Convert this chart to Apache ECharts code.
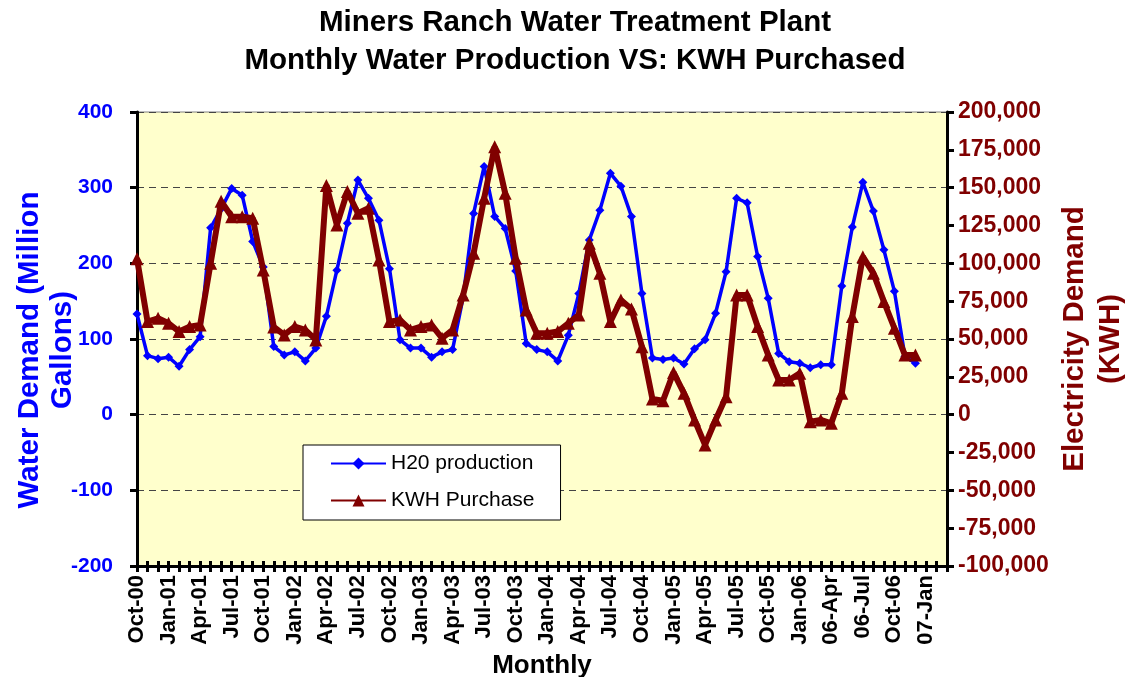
<!DOCTYPE html>
<html>
<head>
<meta charset="utf-8">
<script src="https://cdn.jsdelivr.net/npm/echarts@6/dist/echarts.min.js"></script>
<style>
html,body{margin:0;padding:0;background:#fff;}
#chart{width:1136px;height:677px;}
</style>
</head>
<body>
<div id="chart"></div>
<script>
// Category axis: one slot per month (Oct-00 .. Mar-07)
const months = [
 'Oct-00','Nov-00','Dec-00','Jan-01','Feb-01','Mar-01','Apr-01','May-01','Jun-01','Jul-01','Aug-01','Sep-01',
 'Oct-01','Nov-01','Dec-01','Jan-02','Feb-02','Mar-02','Apr-02','May-02','Jun-02','Jul-02','Aug-02','Sep-02',
 'Oct-02','Nov-02','Dec-02','Jan-03','Feb-03','Mar-03','Apr-03','May-03','Jun-03','Jul-03','Aug-03','Sep-03',
 'Oct-03','Nov-03','Dec-03','Jan-04','Feb-04','Mar-04','Apr-04','May-04','Jun-04','Jul-04','Aug-04','Sep-04',
 'Oct-04','Nov-04','Dec-04','Jan-05','Feb-05','Mar-05','Apr-05','May-05','Jun-05','Jul-05','Aug-05','Sep-05',
 'Oct-05','Nov-05','Dec-05','Jan-06','Feb-06','Mar-06','Apr-06','May-06','Jun-06','Jul-06','Aug-06','Sep-06',
 'Oct-06','Nov-06','Dec-06','Jan-07','Feb-07','Mar-07'
];
// Tick labels shown every third month
const tickLabels = [
 'Oct-00','Jan-01','Apr-01','Jul-01','Oct-01','Jan-02','Apr-02','Jul-02','Oct-02','Jan-03','Apr-03','Jul-03',
 'Oct-03','Jan-04','Apr-04','Jul-04','Oct-04','Jan-05','Apr-05','Jul-05','Oct-05','Jan-06','06-Apr','06-Jul',
 'Oct-06','07-Jan'
];
// H20 production (million gallons), Oct-00 .. Dec-06
const h2oProduction = [
 133,78,74,76,64,86,103,247,272,299,
 290,229,195,90,79,83,71,88,130,191,
 253,310,286,257,193,99,88,88,76,83,
 86,155,266,328,262,246,190,94,86,83,
 71,105,160,231,270,319,302,262,160,75,
 73,75,67,87,99,134,189,286,280,209,
 154,81,70,68,62,66,66,170,248,307,
 269,218,163,77,68
];
// KWH purchased, Oct-00 .. Dec-06
const kwhPurchase = [
 103000,61500,63700,60400,54900,58200,59300,100000,141000,130800,
 130800,129800,95600,58000,52700,58200,56000,49400,151500,125400,
 147400,133100,136400,102200,61500,62600,56000,58200,59300,50500,
 56000,79100,106700,143000,177000,146300,103300,69200,53800,53800,
 54900,60400,65900,113300,93400,61500,75800,69800,44900,10300,
 9200,27900,14100,-3500,-20000,-3500,11900,79100,79100,58200,
 39400,22900,22900,27400,-4600,-3500,-5700,14100,64800,104400,
 93400,74700,57100,39400,39400
];

const FONT = 'Liberation Sans, Arial, sans-serif';
const chart = echarts.init(document.getElementById('chart'), null, {renderer:'canvas'});
const option = {
  animation: false,
  backgroundColor: '#ffffff',
  textStyle: {fontFamily: FONT},
  title: {
    text: 'Miners Ranch Water Treatment Plant\nMonthly Water Production VS: KWH Purchased',
    left: 575, top: 4, textAlign: 'center', padding: 0,
    textStyle: {fontFamily: FONT, fontWeight: 'bold', fontSize: 29.5, lineHeight: 38, color: '#000'}
  },
  legend: {
    orient: 'vertical', left: 303, top: 445,
    itemWidth: 55, itemHeight: 15, itemGap: 16,
    padding: [8, 26, 9, 27],
    backgroundColor: '#ffffff', borderColor: '#000', borderWidth: 1,
    textStyle: {fontFamily: FONT, fontSize: 21, color: '#000'},
    data: ['H20 production', 'KWH Purchase']
  },
  grid: {
    left: 137, right: 189, top: 112, bottom: 111,
    outerBoundsMode: 'none', containLabel: false,
    show: true, backgroundColor: '#FFFFCC', borderColor: '#808080', borderWidth: 1
  },
  xAxis: [
    {
      type: 'category', data: months, boundaryGap: false,
      axisLine: {onZero: false, lineStyle: {color: '#000', width: 3}},
      axisTick: {show: true, interval: 0, length: 6, lineStyle: {color: '#000', width: 3}},
      axisLabel: {
        interval: 0, rotate: 90, margin: 9,
        fontFamily: FONT, fontWeight: 'bold', fontSize: 22, color: '#000',
        formatter: function (v, i) { return (i % 3 === 0 && tickLabels[i / 3]) ? tickLabels[i / 3] : ''; }
      },
      splitLine: {show: false},
      name: 'Monthly', nameLocation: 'middle', nameGap: 86,
      nameTextStyle: {fontFamily: FONT, fontWeight: 'bold', fontSize: 26, color: '#000'}
    },
    {
      type: 'category', data: months, boundaryGap: false, position: 'bottom',
      axisLine: {show: false, onZero: false},
      axisTick: {show: true, inside: true, interval: 0, length: 5, lineStyle: {color: '#000', width: 3}},
      axisLabel: {show: false}, splitLine: {show: false}
    }
  ],
  yAxis: [
    {
      type: 'value', min: -200, max: 400, interval: 100, position: 'left',
      axisLine: {show: true, lineStyle: {color: '#000', width: 3}},
      axisTick: {show: true, length: 7, lineStyle: {color: '#000', width: 3}},
      splitLine: {show: true, lineStyle: {color: '#444', width: 1, type: [7, 5]}},
      axisLabel: {color: '#0000FF', fontFamily: FONT, fontWeight: 'bold', fontSize: 21, margin: 24},
      name: 'Water Demand (Million\nGallons)', nameLocation: 'middle', nameRotate: 90, nameGap: 58,
      nameMoveOverlap: false,
      nameTextStyle: {color: '#0000FF', fontFamily: FONT, fontWeight: 'bold', fontSize: 29.5, lineHeight: 33,
        padding: [0, 22, 0, 0]}
    },
    {
      type: 'value', min: -100000, max: 200000, interval: 25000, position: 'right',
      axisLine: {show: true, lineStyle: {color: '#000', width: 3}},
      axisTick: {show: true, length: 7, lineStyle: {color: '#000', width: 3}},
      splitLine: {show: false},
      axisLabel: {
        color: '#800000', fontFamily: FONT, fontWeight: 'bold', fontSize: 23, margin: 11,
        formatter: function (v) { return v.toLocaleString('en-US'); }
      },
      name: 'Electricity Demand\n(KWH)', nameLocation: 'middle', nameRotate: 90, nameGap: 110,
      nameMoveOverlap: false,
      nameTextStyle: {color: '#800000', fontFamily: FONT, fontWeight: 'bold', fontSize: 29.5, lineHeight: 36}
    }
  ],
  series: [
    {
      name: 'H20 production', type: 'line', xAxisIndex: 0, yAxisIndex: 0,
      data: h2oProduction, symbol: 'diamond', symbolSize: 9,
      lineStyle: {color: '#0000FF', width: 3.5}, itemStyle: {color: '#0000FF'}, z: 3
    },
    {
      name: 'KWH Purchase', type: 'line', xAxisIndex: 0, yAxisIndex: 1,
      data: kwhPurchase, symbol: 'triangle', symbolSize: 13,
      lineStyle: {color: '#800000', width: 6}, itemStyle: {color: '#800000'}, z: 4
    }
  ]
};
chart.setOption(option);
</script>
</body>
</html>
